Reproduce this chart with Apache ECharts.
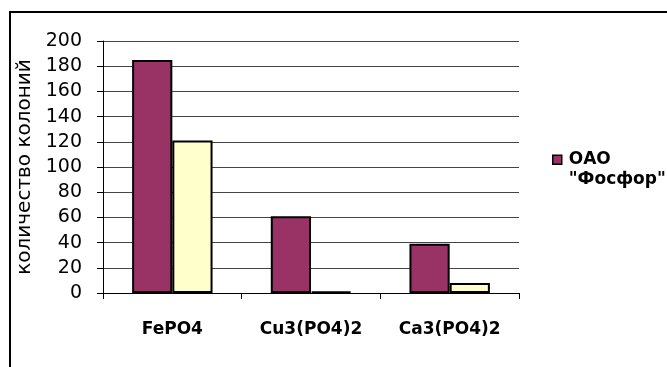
<!DOCTYPE html>
<html><head><meta charset="utf-8">
<script src="https://cdn.jsdelivr.net/npm/echarts@6/dist/echarts.min.js"></script>
<style>html,body{margin:0;padding:0;background:#fff}#c{width:667px;height:367px}</style>
</head><body><div id="c"></div>
<script>
const categories = ['FePO4', 'Cu3(PO4)2', 'Ca3(PO4)2'];
const seriesA = [185, 61, 39];
const seriesB = [121, 1, 8];
const seriesAName = 'ОАО\n"Фосфор"';
const seriesBName = 'второй';
const yAxisName = 'количество колоний';

const FONT = '"DejaVu Sans", sans-serif';
const chart = echarts.init(document.getElementById('c'), null, {renderer: 'canvas'});
chart.setOption({
  animation: false,
  backgroundColor: '#fff',
  graphic: [{
    type: 'rect', shape: {x: 10, y: 12, width: 700, height: 400},
    style: {fill: 'none', stroke: '#000', lineWidth: 2}, silent: true
  }],
  grid: {left: 103, right: 148, top: 41, bottom: 74, containLabel: false},
  legend: {
    data: [seriesAName], left: 547, top: 144, orient: 'vertical',
    itemWidth: 9, itemHeight: 40, itemGap: 4,
    icon: 'path://M0,0L0,0M0,5.5L9,5.5L9,14.5L0,14.5ZM0,40L0,40',
    itemStyle: {borderColor: '#000', borderWidth: 1.5},
    textStyle: {fontFamily: FONT, fontSize: 17, fontWeight: 'bold', color: '#000', lineHeight: 20, padding: [0, 0, 0, 2]}
  },
  xAxis: {
    type: 'category', data: categories,
    axisLine: {lineStyle: {color: '#000', width: 1}},
    axisTick: {show: true, length: 6, alignWithLabel: false, lineStyle: {color: '#000'}},
    axisLabel: {fontFamily: FONT, fontSize: 17, fontWeight: 'bold', color: '#000', margin: 28}
  },
  yAxis: {
    type: 'value', min: 0, max: 200, interval: 20,
    name: yAxisName, nameLocation: 'middle', nameRotate: 90, nameGap: 66,
    nameTextStyle: {fontFamily: FONT, fontSize: 20, color: '#000'},
    axisLine: {show: true, lineStyle: {color: '#000'}},
    axisTick: {show: true, length: 6, lineStyle: {color: '#000'}},
    axisLabel: {fontFamily: FONT, fontSize: 19, color: '#000', margin: 21},
    splitLine: {lineStyle: {color: '#444', width: 1}}
  },
  series: [
    {name: seriesAName, type: 'bar', data: seriesA, barGap: '0%', barCategoryGap: '42%',
     itemStyle: {color: '#993366', borderColor: '#000', borderWidth: 2}},
    {name: seriesBName, type: 'bar', data: seriesB,
     itemStyle: {color: '#FFFFCC', borderColor: '#000', borderWidth: 2}}
  ]
});
</script></body></html>
